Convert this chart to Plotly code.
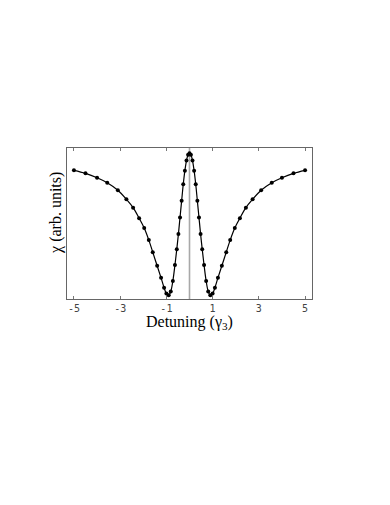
import plotly.graph_objects as go

# left half of the curve (mirrored for the right half)
left_x = [-5.0, -4.5, -4.0, -3.56, -3.1, -2.73, -2.44, -2.18, -1.96, -1.76, -1.59,
          -1.40, -1.23, -1.1, -1.0, -0.9, -0.81, -0.72, -0.63, -0.55, -0.48, -0.41,
          -0.34, -0.27, -0.2, -0.13, -0.06]
left_y = [0.852, 0.832, 0.803, 0.77, 0.72, 0.66, 0.605, 0.535, 0.47, 0.39, 0.31,
          0.22, 0.14, 0.075, 0.036, 0.025, 0.05, 0.12, 0.225, 0.33, 0.43, 0.54,
          0.65, 0.76, 0.85, 0.917, 0.955]
peak_x = 0.0
peak_y = 0.966

detuning = left_x + [peak_x] + [-v for v in reversed(left_x)]
chi = left_y + [peak_y] + list(reversed(left_y))

tick_vals = [-5, -3, -1, 1, 3, 5]
tick_text = ["-5", "-3", "-1", "1", "3", "5"]

fig = go.Figure()

# grey marker line at zero detuning
fig.add_trace(go.Scatter(x=[0, 0], y=[0, 1.0], mode="lines",
                         line=dict(color="#a8a8a8", width=1.6),
                         hoverinfo="skip", showlegend=False))

fig.add_trace(go.Scatter(x=detuning, y=chi, mode="lines+markers",
                         line=dict(color="black", width=1.2, shape="spline", smoothing=1.0),
                         marker=dict(color="black", size=4),
                         showlegend=False))

fig.update_xaxes(range=[-5.3, 5.3], tickvals=tick_vals, ticktext=tick_text,
                 ticks="inside", ticklen=3, tickcolor="#777", mirror="ticks",
                 showline=True, linecolor="#666", linewidth=1, showgrid=False,
                 zeroline=False,
                 tickfont=dict(family="DejaVu Sans Mono", size=10, color="#444"))
fig.update_yaxes(range=[0, 1.0], showticklabels=False, ticks="",
                 showline=True, linecolor="#666", linewidth=1, mirror=True,
                 showgrid=False, zeroline=False)

title_font = dict(family="Liberation Serif", size=16, color="black")
fig.add_annotation(text="Detuning (γ<sub>3</sub>)", xref="paper", yref="paper",
                   x=0.5, y=0, yshift=-23, xanchor="center", yanchor="middle",
                   showarrow=False, font=title_font)
fig.add_annotation(text="χ (arb. units)", xref="paper", yref="paper",
                   x=0, y=0.57, xshift=-11, xanchor="center", yanchor="middle",
                   textangle=-90, showarrow=False, font=title_font)

# page has an 8px body margin, so the figure is shrunk to fit the window
fig.update_layout(width=374, height=489, plot_bgcolor="white", paper_bgcolor="white",
                  margin=dict(l=59, r=70, t=140, b=198))

fig.write_html("out.html")
